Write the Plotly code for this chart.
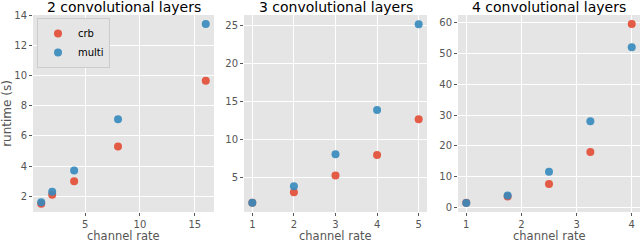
import plotly.graph_objects as go

# Data
p1_x = [1, 2, 4, 8, 16]
p1_crb = [1.5, 2.1, 3.0, 5.3, 9.65]
p1_multi = [1.6, 2.3, 3.7, 7.1, 13.4]

p2_x = [1, 2, 3, 4, 5]
p2_crb = [1.7, 3.1, 5.3, 8.0, 12.7]
p2_multi = [1.7, 3.9, 8.1, 13.9, 25.2]

p3_x = [1, 1.75, 2.5, 3.25, 4]
p3_crb = [1.5, 3.5, 7.6, 18.0, 59.6]
p3_multi = [1.4, 3.9, 11.6, 28.0, 52.0]

titles = ["2 convolutional layers", "3 convolutional layers", "4 convolutional layers"]
x_title = "channel rate"
y_title = "runtime (s)"
series_names = ["crb", "multi"]
colors = ["#E24A33", "#348ABD"]

W, H = 640, 243
doms_px = [(33, 214), (244, 427), (458, 640)]
top_px, bot_px = 15, 212

xranges = [[0.25, 16.75], [0.8, 5.2], [0.85, 4.15]]
yranges = [[0.96, 14.0], [0.5, 26.4], [-1.5, 62.5]]
xticks = [[5, 10, 15], [1, 2, 3, 4, 5], [1, 2, 3, 4]]
yticks = [[2, 4, 6, 8, 10, 12, 14], [5, 10, 15, 20, 25], [0, 10, 20, 30, 40, 50, 60]]

panels = [(p1_x, p1_crb, p1_multi), (p2_x, p2_crb, p2_multi), (p3_x, p3_crb, p3_multi)]

fig = go.Figure()
for i, (xs, crb, multi) in enumerate(panels):
    sfx = "" if i == 0 else str(i + 1)
    for j, (name, ys) in enumerate(zip(series_names, [crb, multi])):
        fig.add_trace(go.Scatter(
            x=xs, y=ys, mode="markers", name=name,
            marker=dict(color=colors[j], size=8, opacity=0.9, line=dict(width=0)),
            xaxis="x" + sfx, yaxis="y" + sfx, showlegend=(i == 0),
            cliponaxis=False,
        ))

layout = dict(
    width=W, height=H,
    margin=dict(l=0, r=0, t=0, b=0, autoexpand=False),
    paper_bgcolor="white",
    font=dict(family="DejaVu Sans", color="#555555", size=10),
    showlegend=True,
    legend=dict(x=37 / W, y=1 - 18 / H, xanchor="left", yanchor="top",
                bgcolor="#E5E5E5", bordercolor="#CCCCCC", borderwidth=1,
                font=dict(size=10, color="#000000"), itemwidth=30, tracegroupgap=0),
    annotations=[],
)
for i in range(3):
    sfx = "" if i == 0 else str(i + 1)
    l, r = doms_px[i]
    layout["xaxis" + sfx] = dict(
        domain=[l / W, r / W], range=xranges[i], tickvals=xticks[i],
        anchor="y" + sfx, showgrid=True, gridcolor="white", gridwidth=1,
        zeroline=False, ticks="outside", ticklen=3, tickcolor="#555555",
        tickfont=dict(size=10),
        showline=False, automargin=False,
    )
    layout["yaxis" + sfx] = dict(
        domain=[1 - bot_px / H, 1 - top_px / H], range=yranges[i], tickvals=yticks[i],
        anchor="x" + sfx, showgrid=True, gridcolor="white", gridwidth=1,
        zeroline=False, ticks="outside", ticklen=3, tickcolor="#555555",
        tickfont=dict(size=10),
        showline=False, automargin=False,
    )
    if i == 0:
        layout["yaxis"]["title"] = dict(text=y_title, font=dict(size=12, color="#555555"), standoff=4)
    layout["annotations"].append(dict(
        text=titles[i], x=(l + r) / 2 / W, y=1 - 7 / H, xref="paper", yref="paper",
        xanchor="center", yanchor="middle", showarrow=False,
        font=dict(size=14, color="black"),
    ))
    layout["annotations"].append(dict(
        text=x_title, x=(l + r) / 2 / W, y=0, xref="paper", yref="paper",
        xanchor="center", yanchor="bottom", showarrow=False, yshift=-2,
        font=dict(size=11.5, color="#555555"),
    ))

fig.update_layout(**layout)
fig.update_layout(plot_bgcolor="#E5E5E5")
fig.write_html("out.html", config={"displayModeBar": False},
               post_script="document.body.style.margin='0';document.body.style.padding='0';")
